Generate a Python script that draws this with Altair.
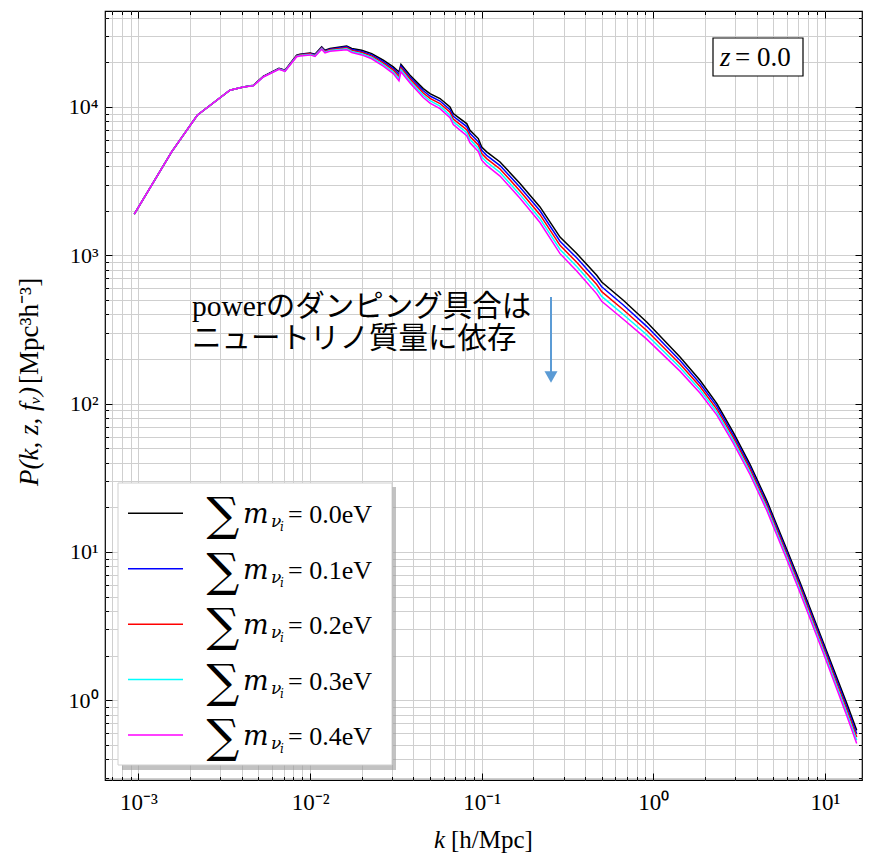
import altair as alt
import pandas as pd

# ---------------- data ----------------
k_values = [0.000945, 0.00156, 0.00220, 0.00341, 0.00408, 0.00467, 0.00534, 0.00659,
            0.00714, 0.00835, 0.00873, 0.00999, 0.01068, 0.01168, 0.01221, 0.01306,
            0.01634, 0.01748, 0.01998, 0.02286, 0.02671, 0.03053, 0.03296, 0.03385,
            0.03822, 0.04567, 0.04995, 0.05715, 0.06535, 0.06831, 0.07472, 0.08178,
            0.08547, 0.09554, 0.1000, 0.1069, 0.1279, 0.1672, 0.2186, 0.2860,
            0.3578, 0.4681, 0.5004, 0.6686, 0.9152, 1.431, 1.871, 2.342,
            2.925, 3.66, 4.579, 5.99, 7.159, 9.788, 13.40, 15.32]

# log10 P(k) for each total neutrino mass
logp_00 = [3.277, 3.697, 3.944, 4.113, 4.135, 4.146, 4.207, 4.261, 4.248, 4.349, 4.355, 4.364,
           4.355, 4.405, 4.382, 4.394, 4.411, 4.394, 4.382, 4.360, 4.315, 4.270, 4.236, 4.288,
           4.214, 4.124, 4.090, 4.057, 4.000, 3.956, 3.922, 3.888, 3.843, 3.787, 3.730, 3.697,
           3.629, 3.484, 3.326, 3.123, 3.012, 2.865, 2.820, 2.697, 2.550, 2.314, 2.157, 2.002,
           1.806, 1.591, 1.348, 1.018, 0.795, 0.390, -0.021, -0.203]
logp_01 = [3.277, 3.697, 3.944, 4.113, 4.135, 4.145, 4.206, 4.259, 4.246, 4.346, 4.352, 4.361,
           4.352, 4.401, 4.378, 4.389, 4.405, 4.387, 4.374, 4.351, 4.305, 4.259, 4.221, 4.276,
           4.201, 4.109, 4.074, 4.040, 3.982, 3.937, 3.903, 3.868, 3.822, 3.765, 3.708, 3.674,
           3.605, 3.459, 3.300, 3.095, 2.983, 2.834, 2.788, 2.665, 2.521, 2.290, 2.136, 1.983,
           1.788, 1.574, 1.331, 1.001, 0.778, 0.372, -0.042, -0.225]
logp_02 = [3.277, 3.697, 3.944, 4.113, 4.135, 4.145, 4.205, 4.257, 4.244, 4.344, 4.350, 4.358,
           4.348, 4.397, 4.374, 4.385, 4.399, 4.381, 4.367, 4.343, 4.295, 4.248, 4.206, 4.263,
           4.188, 4.094, 4.058, 4.023, 3.964, 3.919, 3.883, 3.847, 3.801, 3.744, 3.686, 3.652,
           3.582, 3.434, 3.274, 3.067, 2.953, 2.803, 2.755, 2.633, 2.493, 2.267, 2.115, 1.963,
           1.770, 1.557, 1.315, 0.985, 0.761, 0.354, -0.062, -0.247]
logp_03 = [3.277, 3.697, 3.944, 4.113, 4.135, 4.144, 4.203, 4.256, 4.242, 4.341, 4.347, 4.354,
           4.345, 4.393, 4.369, 4.380, 4.392, 4.374, 4.359, 4.334, 4.285, 4.236, 4.191, 4.251,
           4.174, 4.079, 4.042, 4.006, 3.945, 3.900, 3.864, 3.827, 3.780, 3.722, 3.663, 3.629,
           3.558, 3.409, 3.247, 3.039, 2.924, 2.771, 2.723, 2.601, 2.464, 2.243, 2.093, 1.944,
           1.752, 1.539, 1.298, 0.968, 0.744, 0.336, -0.083, -0.269]
logp_04 = [3.277, 3.697, 3.944, 4.113, 4.135, 4.143, 4.202, 4.254, 4.240, 4.339, 4.344, 4.351,
           4.341, 4.389, 4.365, 4.375, 4.386, 4.367, 4.351, 4.325, 4.275, 4.225, 4.176, 4.238,
           4.161, 4.064, 4.026, 3.989, 3.927, 3.881, 3.844, 3.806, 3.759, 3.700, 3.641, 3.606,
           3.534, 3.384, 3.221, 3.011, 2.894, 2.740, 2.690, 2.569, 2.435, 2.219, 2.072, 1.924,
           1.734, 1.522, 1.281, 0.951, 0.727, 0.318, -0.103, -0.291]

mass_labels = ["0.0eV", "0.1eV", "0.2eV", "0.3eV", "0.4eV"]
series_colors = ["#000000", "#0000ff", "#ff0000", "#00ffff", "#ff00ff"]
all_logp = [logp_00, logp_01, logp_02, logp_03, logp_04]

x_major_labels = {-3: "10⁻³", -2: "10⁻²", -1: "10⁻¹", 0: "10⁰", 1: "10¹"}
y_major_labels = {0: "10⁰", 1: "10¹", 2: "10²", 3: "10³", 4: "10⁴"}

annotation_lines = ["powerのダンピング具合は", "ニュートリノ質量に依存"]
redshift_value = "= 0.0"

# ---------------- table ----------------
rows = []
for name, lp in zip(mass_labels, all_logp):
    for i, (k, v) in enumerate(zip(k_values, lp)):
        rows.append({"k": k, "P": 10 ** v, "series": name, "idx": i})
df = pd.DataFrame(rows)

legend_df = pd.DataFrame({"series": mass_labels, "lab": ["= " + m for m in mass_labels]})

# ---------------- layout ----------------
W, H = 757, 769
XDOM = [6.38e-4, 16.45]
YDOM = [0.29, 44360]
SERIF = "Liberation Serif"

x_ticks = [m * 10.0 ** e for e in range(-4, 2) for m in range(1, 10)]
x_ticks = [v for v in x_ticks if XDOM[0] <= v <= XDOM[1]]
y_ticks = [m * 10.0 ** e for e in range(-1, 5) for m in range(1, 10)]
y_ticks = [v for v in y_ticks if YDOM[0] <= v <= YDOM[1]]

E = "round(log(datum.value)/LN10)"
IS_MAJOR = f"abs(log(datum.value)/LN10 - {E}) < 1e-6"


def label_expr(mapping):
    expr = "''"
    for e, s in mapping.items():
        expr = f"({E}=={e} ? '{s}' : {expr})"
    return f"{IS_MAJOR} ? {expr} : ''"


tick_size = {"condition": {"test": IS_MAJOR, "value": 7}, "value": 3.5}

xs = alt.Scale(type="log", domain=XDOM, nice=False)
ys = alt.Scale(type="log", domain=YDOM, nice=False)

main_x = alt.Axis(orient="bottom", values=x_ticks, labelExpr=label_expr(x_major_labels),
                  grid=True, gridColor="#cfcfcf", gridWidth=1, ticks=False, domain=False,
                  labelFont=SERIF, labelFontSize=23, labelColor="black", labelPadding=11,
                  labelOverlap=False, labelFlush=False, title=None)
main_y = alt.Axis(orient="left", values=y_ticks, labelExpr=label_expr(y_major_labels),
                  grid=True, gridColor="#cfcfcf", gridWidth=1, ticks=False, domain=False,
                  labelFont=SERIF, labelFontSize=22, labelColor="black", labelPadding=7,
                  labelOverlap=False, labelFlush=False, title=None)


def tick_axis(orient, offset, values):
    return alt.Axis(orient=orient, offset=offset, values=values, labels=False, grid=False,
                    domain=False, ticks=True, tickSize=tick_size, tickColor="black",
                    tickWidth=1, title=None)


color = alt.Color("series:N", scale=alt.Scale(domain=mass_labels, range=series_colors), legend=None)

lines = alt.Chart(df).mark_line(strokeWidth=1.5).encode(
    x=alt.X("k:Q", scale=xs, axis=main_x),
    y=alt.Y("P:Q", scale=ys, axis=main_y),
    color=color,
    order="idx:Q",
)

ticks_a = alt.Chart(df).mark_line(strokeOpacity=0).encode(
    x=alt.X("k:Q", scale=xs, axis=tick_axis("top", -H, x_ticks)),
    y=alt.Y("P:Q", scale=ys, axis=tick_axis("right", -W, y_ticks)),
    detail="series:N",
)
ticks_b = alt.Chart(df).mark_line(strokeOpacity=0).encode(
    x=alt.X("k:Q", scale=xs, axis=tick_axis("bottom", -H, x_ticks)),
    y=alt.Y("P:Q", scale=ys, axis=tick_axis("left", -W, y_ticks)),
    detail="series:N",
)

one = pd.DataFrame({"a": [0]})

# legend box
shadow = alt.Chart(one).mark_rect(color="#9a9a9a", opacity=0.6).encode(
    x=alt.value(17), x2=alt.value(291), y=alt.value(476), y2=alt.value(759))
box = alt.Chart(one).mark_rect(fill="white", stroke="#d0d0d0", strokeWidth=1).encode(
    x=alt.value(13), x2=alt.value(287), y=alt.value(472), y2=alt.value(754))

leg_y = alt.Y("series:N", scale=alt.Scale(type="point", domain=mass_labels, range=[502.3, 724], padding=0), axis=None)
leg_base = alt.Chart(legend_df)
leg_rule = leg_base.mark_rule(strokeWidth=1.5).encode(
    x=alt.value(23), x2=alt.value(78), y=leg_y, color=color)
leg_sum = leg_base.mark_text(font="DejaVu Serif", fontSize=46, align="center", baseline="middle",
                             color="black", dy=3).encode(x=alt.value(118), y=leg_y, text=alt.value("∑"))
leg_m = leg_base.mark_text(font="DejaVu Serif", fontSize=27, fontStyle="italic", align="left",
                           baseline="alphabetic", dy=10, color="black").encode(
    x=alt.value(138), y=leg_y, text=alt.value("m"))
leg_nu = leg_base.mark_text(font="DejaVu Serif", fontSize=17, fontStyle="italic", align="left",
                            baseline="alphabetic", dy=14, color="black").encode(
    x=alt.value(166), y=leg_y, text=alt.value("ν"))
leg_i = leg_base.mark_text(font="DejaVu Serif", fontSize=12, fontStyle="italic", align="left",
                           baseline="alphabetic", dy=18, color="black").encode(
    x=alt.value(175), y=leg_y, text=alt.value("i"))
leg_lab = leg_base.mark_text(font=SERIF, fontSize=26, align="left", baseline="alphabetic",
                             dy=10, color="black").encode(
    x=alt.value(183), y=leg_y, text="lab:N")

# z box
zbox = alt.Chart(one).mark_rect(fill="white", stroke="black", strokeWidth=1.2).encode(
    x=alt.value(608), x2=alt.value(698), y=alt.value(27), y2=alt.value(65))
z_txt = alt.Chart(one).mark_text(font=SERIF, fontSize=27, fontStyle="italic", align="left",
                                 baseline="alphabetic", color="black").encode(
    x=alt.value(615), y=alt.value(55), text=alt.value("z"))
z_val = alt.Chart(one).mark_text(font=SERIF, fontSize=27, align="left", baseline="alphabetic",
                                 color="black").encode(
    x=alt.value(630), y=alt.value(55), text=alt.value(redshift_value))

# annotation (one two-line text; Latin in serif, Japanese falls back to Noto Sans CJK JP)
ann = alt.Chart(one).mark_text(font="'Liberation Serif', 'Noto Sans CJK JP'", fontSize=29.5,
                               lineHeight=32, align="left", baseline="alphabetic",
                               color="black").encode(
    x=alt.value(87), y=alt.value(305), text=alt.value(annotation_lines))
arrow_shaft = alt.Chart(one).mark_rule(color="#5b9bd5", strokeWidth=2).encode(
    x=alt.value(446), y=alt.value(286), y2=alt.value(362))
arrow_head = alt.Chart(one).mark_point(shape="triangle-down", filled=True, color="#5b9bd5",
                                       size=170, opacity=1).encode(
    x=alt.value(446), y=alt.value(366))

# axis titles
xt_k = alt.Chart(one).mark_text(font=SERIF, fontSize=25, fontStyle="italic", align="right",
                                baseline="middle", color="black").encode(
    x=alt.value(340), y=alt.value(829), text=alt.value("k"))
xt_u = alt.Chart(one).mark_text(font=SERIF, fontSize=25, align="left", baseline="middle",
                                color="black").encode(
    x=alt.value(346), y=alt.value(829), text=alt.value("[h/Mpc]"))
yt_a = alt.Chart(one).mark_text(font=SERIF, fontSize=27, fontStyle="italic", align="right",
                                baseline="middle", angle=270, color="black").encode(
    x=alt.value(-75), y=alt.value(376), text=alt.value("P(k, z, fᵥ)"))
yt_b = alt.Chart(one).mark_text(font=SERIF, fontSize=27, align="left", baseline="middle",
                                angle=270, color="black").encode(
    x=alt.value(-75), y=alt.value(373), text=alt.value("[Mpc³h⁻³]"))

chart = alt.layer(
    lines, ticks_a, ticks_b,
    shadow, box, leg_rule, leg_sum, leg_m, leg_nu, leg_i, leg_lab,
    zbox, z_txt, z_val, ann, arrow_shaft, arrow_head,
    xt_k, xt_u, yt_a, yt_b,
).resolve_scale(y="independent").resolve_axis(x="independent", y="independent").properties(
    width=W, height=H,
    autosize=alt.AutoSizeParams(type="none"),
    padding={"left": 105, "top": 11, "right": 9, "bottom": 78},
    background="white",
).configure_view(stroke="black", strokeWidth=1.2)

chart.save("out.html", embed_options={"renderer": "svg", "actions": False})
